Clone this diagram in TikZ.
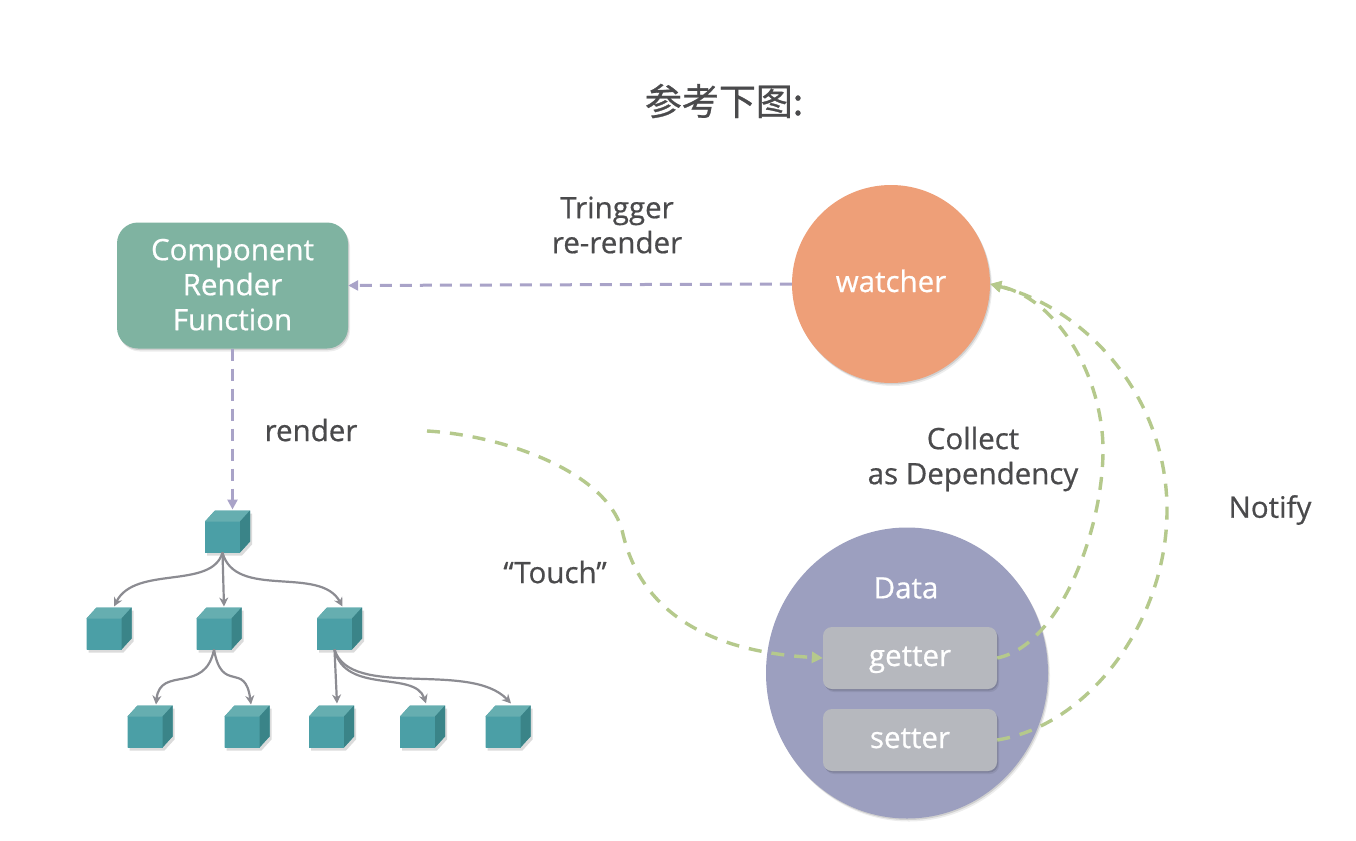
\documentclass[tikz,border=0pt]{standalone}
\usepackage{fontspec}
\setmainfont{Open Sans}[FakeBold=0.6]
\newfontfamily\cjkfont{Noto Sans CJK SC}[FakeBold=0.8]
\usetikzlibrary{arrows.meta,shadows,shapes.geometric}
\definecolor{inktext}{HTML}{4A4A4C}
\definecolor{boxgreen}{HTML}{7FB3A1}
\definecolor{watcherfill}{HTML}{EE9F78}
\definecolor{datafill}{HTML}{9C9FBF}
\definecolor{gsfill}{HTML}{B6B8BE}
\definecolor{cubefront}{HTML}{4B9FA6}
\definecolor{cubetop}{HTML}{66AEB0}
\definecolor{cubeside}{HTML}{3A8488}
\definecolor{purpledash}{HTML}{A9A3C8}
\definecolor{greendash}{HTML}{B5C98C}
\definecolor{greyline}{HTML}{8C8C92}
\tikzset{
  softshadow/.style={
    general shadow={shadow xshift=2pt,shadow yshift=-3pt,fill=black,opacity=.07},
    general shadow={shadow xshift=1pt,shadow yshift=-1.5pt,fill=black,opacity=.12}},
  label text/.style={text=inktext,align=center,font=\fontsize{29.5}{35}\selectfont},
  white text/.style={text=white,align=center,font=\fontsize{29.5}{35}\selectfont},
  cubenode/.style={minimum width=35pt,minimum height=31pt,inner sep=0pt,outer sep=0pt},
  purple link/.style={draw=purpledash,line width=3pt,dash pattern=on 12pt off 8pt,
    -{Triangle[length=10pt,width=10pt,color=purpledash]}},
  green link/.style={draw=greendash,line width=3.4pt,dash pattern=on 13pt off 10pt,
    -{Triangle[length=11pt,width=11pt,color=greendash]}},
  tree link/.style={draw=greyline,line width=2.2pt,-{Stealth[length=9pt,width=9pt]}},
  gsbox/.style={fill=gsfill,rounded corners=9pt,minimum width=174pt,minimum height=62pt,
    inner sep=0pt,softshadow,white text,text height=22pt,text depth=6pt},
}
\newcommand{\cubeat}[3]{%
  \path node[cubenode] (#1) at (#2,#3) {};
  \path[fill=cubefront,general shadow={shadow xshift=2pt,shadow yshift=-3pt,fill=black,opacity=.14}]
    (#1.south west) -- (#1.north west) -- ++(10pt,11pt) -- ++(35pt,0pt) -- ++(0pt,-31pt) -- (#1.south east) -- cycle;
  \fill[cubefront] (#1.south west) rectangle (#1.north east);
  \fill[cubetop] (#1.north west) -- ++(10pt,11pt) -- ++(35pt,0pt) -- (#1.north east) -- cycle;
  \fill[cubeside] (#1.north east) -- ++(10pt,11pt) -- ++(0pt,-31pt) -- (#1.south east) -- cycle;
}
\begin{document}
\begin{tikzpicture}[x=1pt,y=-1pt]
\useasboundingbox[fill=white] (0,0) rectangle (1356,840);

% title
\node[text=inktext,font=\cjkfont\fontsize{37}{42}\selectfont] (title) at (724,101) {参考下图:};

% main shapes
\node[fill=boxgreen,rounded corners=21pt,minimum width=231pt,minimum height=126pt,inner sep=0pt,softshadow,white text,text depth=2pt] (comp) at (232.5,285.5) {Component\\Render\\Function};
\node[circle,fill=watcherfill,minimum size=198pt,inner sep=0pt,softshadow,white text,text height=22pt,text depth=6pt] (watcher) at (891,284) {watcher};
\node[ellipse,fill=datafill,minimum width=282pt,minimum height=291pt,inner sep=0pt,softshadow] (data) at (907,673) {};
\node[white text] (datalabel) at (906,588) {Data};
\node[gsbox] (getter) at (910,658) {getter};
\node[gsbox] (setter) at (910,740) {setter};

% labels
\node[label text] (trigger) at (617,225) {Tringger\\re-render};
\node[label text] (render) at (311,430) {render};
\node[label text] (touch) at (555,572) {“Touch”};
\node[label text] (collect) at (973,459) {Collect\\as Dependency};
\node[label text] (notify) at (1270,510) {Notify};
\coordinate (touchstart) at (427,431);

% cubes
\cubeat{root}{222.5}{537}
\cubeat{ca}{104}{634}
\cubeat{cb}{214}{634}
\cubeat{cc}{334.5}{634}
\cubeat{da}{145}{732}
\cubeat{db}{242}{732}
\cubeat{dc}{326.5}{732}
\cubeat{dd}{417.5}{732}
\cubeat{de}{503}{732}

% tree connectors
\draw[tree link] (root.south) .. controls (212,590) and (135,565) .. ([shift={(10pt,12pt)}]ca.north);
\draw[tree link] (root.south) -- ([shift={(10pt,12pt)}]cb.north);
\draw[tree link] (root.south) .. controls (235,600) and (320,565) .. ([shift={(8pt,12pt)}]cc.north);
\draw[tree link] (cb.south) .. controls (205,695) and (160,665) .. ([shift={(11pt,12pt)}]da.north);
\draw[tree link] (cb.south) .. controls (222,695) and (245,660) .. ([shift={(9pt,12pt)}]db.north);
\draw[tree link] (cc.south) -- ([shift={(10.5pt,13pt)}]dc.north);
\draw[tree link] (cc.south) .. controls (345,695) and (415,670) .. ([shift={(8.5pt,13pt)}]dd.north);
\draw[tree link] (cc.south) .. controls (350,700) and (470,660) .. ([shift={(8pt,13pt)}]de.north);

% purple dashed connectors
\draw[purple link] (watcher.west) -- (comp.east);
\draw[purple link] (comp.south) -- ([shift={(10pt,12pt)}]root.north);

% green dashed connectors
\draw[green link] (touchstart) .. controls (500,435) and (605,470) .. (622,530)
  .. controls (635,590) and (680,650) .. (getter.west);
\draw[green link] (getter.east) .. controls (1060,645) and (1103,530) .. (1103,450)
  .. controls (1103,380) and (1060,300) .. (watcher.east);
\draw[green link] (setter.east) .. controls (1090,725) and (1167,620) .. (1167,510)
  .. controls (1167,400) and (1090,310) .. (watcher.east);
\end{tikzpicture}
\end{document}
